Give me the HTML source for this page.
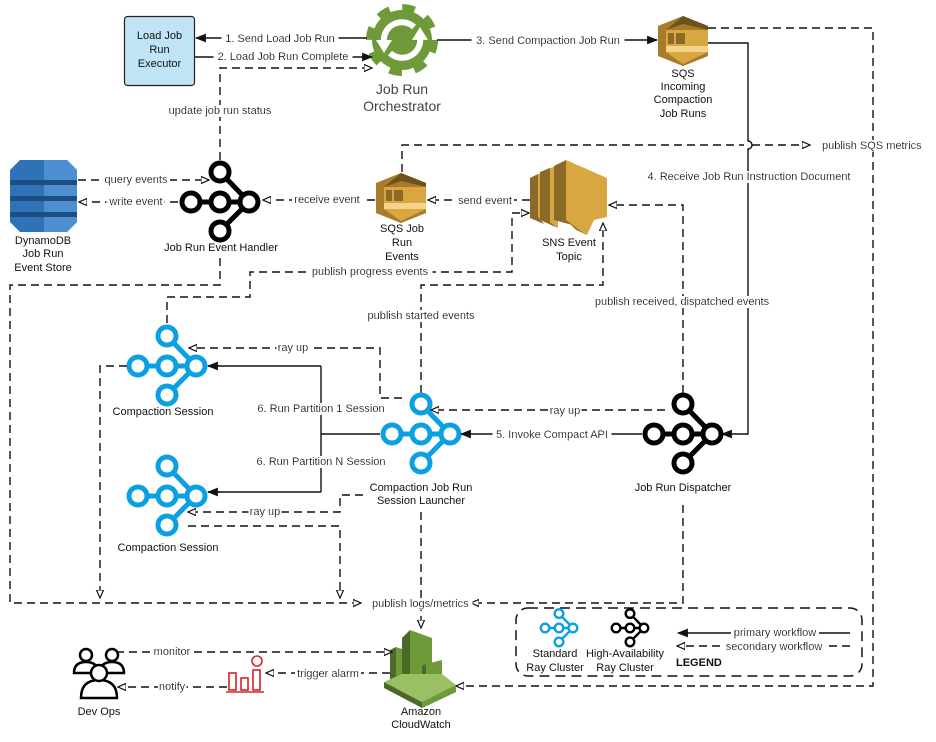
<!DOCTYPE html>
<html><head><meta charset="utf-8">
<style>
html,body{margin:0;padding:0;background:#fff;}
svg{display:block;font-family:"Liberation Sans",sans-serif;}
.t{font-size:11px;fill:#111;filter:url(#bg);}
.d{fill:none;stroke:#111;stroke-width:1.4;stroke-dasharray:8 5;}
.s{fill:none;stroke:#111;stroke-width:1.4;}
.lb{font-size:11px;fill:#111;}
</style></head><body>
<svg width="936" height="742" viewBox="0 0 936 742" xmlns="http://www.w3.org/2000/svg">
<defs>
<filter id="bg" x="-0.03" y="0" width="1.06" height="1"><feFlood flood-color="#fff"/><feComposite in="SourceGraphic"/></filter>
<marker id="o" viewBox="0 0 10 10" refX="9" refY="5" markerWidth="9" markerHeight="9" orient="auto" markerUnits="userSpaceOnUse"><path d="M0,1 L9,5 L0,9 Z" fill="#fff" stroke="#111" stroke-width="1.3"/></marker>
<marker id="f" viewBox="0 0 10 10" refX="9" refY="5" markerWidth="11" markerHeight="11" orient="auto" markerUnits="userSpaceOnUse"><path d="M0,1 L10,5 L0,9 Z" fill="#111"/></marker>
<g id="ray" fill="#fff" stroke-width="5">
<path d="M0,-30 L29,0 L0,29 M-29,0 L29,0" fill="none"/>
<circle cx="0" cy="-30" r="9"/><circle cx="-29" cy="0" r="9"/><circle cx="0" cy="0" r="9"/><circle cx="29" cy="0" r="9"/><circle cx="0" cy="29" r="9"/>
</g>
<g id="sqs">
<polygon points="25,0 50,10 50,40 25,50 0,40 0,10" fill="#d9a741"/>
<polygon points="0,10 25,0 50,10 50,14 8,14 8,36 50,36 50,40 25,50 0,40" fill="#a87c2a"/>
<polygon points="25,0 50,10 50,14 25,8 8,14" fill="#6e5219"/>
<rect x="8" y="14" width="42" height="16" fill="#d9a741"/>
<rect x="10" y="17" width="6" height="11" fill="#8a6a26"/><rect x="18" y="17" width="9" height="11" fill="#8a6a26"/>
<polygon points="8,30 50,30 50,36 8,36" fill="#f5d48a"/>
<polygon points="8,36 50,36 25,48" fill="#d9a741"/>
</g>
</defs>

<!-- Load Job Run Executor -->
<rect x="124.5" y="16.5" width="70" height="69" rx="3" fill="#c0e4f6" stroke="#222" stroke-width="1.2"/>
<text class="lb" x="159.5" y="39" text-anchor="middle">Load Job</text>
<text class="lb" x="159.5" y="53" text-anchor="middle">Run</text>
<text class="lb" x="159.5" y="67" text-anchor="middle">Executor</text>

<!-- Orchestrator gear -->
<g transform="translate(402,40)">
<circle r="30" fill="#6f9a3a"/>
<circle r="32" fill="none" stroke="#6f9a3a" stroke-width="8" stroke-dasharray="12.5 12.63"/>
<path d="M-18,3 A18,18 0 0 1 12,-13" fill="none" stroke="#fff" stroke-width="6"/>
<path d="M18,-3 A18,18 0 0 1 -12,13" fill="none" stroke="#fff" stroke-width="6"/>
<polygon points="-26,0 -10,0 -18,13" fill="#fff"/>
<polygon points="26,0 10,0 18,-13" fill="#fff"/>
</g>
<text x="402" y="94" text-anchor="middle" font-size="14" fill="#444">Job Run</text>
<text x="402" y="111" text-anchor="middle" font-size="14" fill="#444">Orchestrator</text>

<!-- arrows 1,2 -->
<line class="s" x1="367" y1="38" x2="196" y2="38" marker-end="url(#f)"/>
<text class="t" x="280" y="42" text-anchor="middle">1. Send Load Job Run</text>
<line class="s" x1="195" y1="57" x2="372" y2="57" marker-end="url(#f)"/>
<text class="t" x="283" y="60" text-anchor="middle">2. Load Job Run Complete</text>
<path class="d" d="M220,160 L220,68 L372,68" marker-end="url(#o)"/>
<text class="t" x="220" y="114" text-anchor="middle">update job run status</text>

<!-- arrow 3 -->
<line class="s" x1="437" y1="40" x2="657" y2="40" marker-end="url(#f)"/>
<text class="t" x="548" y="44" text-anchor="middle">3. Send Compaction Job Run</text>
<use href="#sqs" x="658" y="16"/>
<text class="lb" x="683" y="77" text-anchor="middle">SQS</text>
<text class="lb" x="683" y="90" text-anchor="middle">Incoming</text>
<text class="lb" x="683" y="103" text-anchor="middle">Compaction</text>
<text class="lb" x="683" y="117" text-anchor="middle">Job Runs</text>

<!-- 4 -->
<path class="s" d="M708,43 L748,43 L748,141 A4,4 0 0 1 748,149 L748,434 L722,434" marker-end="url(#f)"/>
<text class="t" x="749" y="180" text-anchor="middle">4. Receive Job Run Instruction Document</text>
<path class="d" d="M708,28 L873,28 L873,686 L456,686" marker-end="url(#o)"/>

<!-- publish SQS metrics -->
<path class="d" d="M402,172 L402,145 L744,145 M752,145 L810,145" marker-end="url(#o)"/>
<text class="t" x="822" y="149">publish SQS metrics</text>

<!-- DynamoDB -->
<g transform="translate(10,160)">
<path d="M10,0 L57,0 L67,10 L67,62 L57,72 L10,72 L0,62 L0,10 Z" fill="#2e73b8"/>
<path d="M34,0 L57,0 L67,10 L67,62 L57,72 L34,72 Z" fill="#4d8fd1"/>
<rect x="0" y="20" width="67" height="5" fill="#1d4f7e"/>
<rect x="0" y="36" width="67" height="5" fill="#1d4f7e"/>
<rect x="0" y="52" width="67" height="5" fill="#1d4f7e"/>
</g>
<text class="lb" x="43" y="244" text-anchor="middle">DynamoDB</text>
<text class="lb" x="43" y="257" text-anchor="middle">Job Run</text>
<text class="lb" x="43" y="271" text-anchor="middle">Event Store</text>
<path class="d" d="M78,180 L209,180" marker-end="url(#o)"/>
<text class="t" x="136" y="183" text-anchor="middle">query events</text>
<path class="d" d="M178,202 L79,202" marker-end="url(#o)"/>
<text class="t" x="136" y="205" text-anchor="middle">write event</text>

<!-- Event Handler -->
<use href="#ray" x="220" y="202" stroke="#000"/>
<text class="lb" x="221" y="251" text-anchor="middle">Job Run Event Handler</text>

<path class="d" d="M375,200 L263,200" marker-end="url(#o)"/>
<text class="t" x="327" y="203" text-anchor="middle">receive event</text>
<use href="#sqs" x="376" y="173"/>
<text class="lb" x="402" y="232" text-anchor="middle">SQS Job</text>
<text class="lb" x="402" y="246" text-anchor="middle">Run</text>
<text class="lb" x="402" y="260" text-anchor="middle">Events</text>

<!-- SNS -->
<g transform="translate(530,160)">
<polygon points="0,18 8,14 8,56 14,64 0,58" fill="#8a6a26"/>
<polygon points="8,14 14,12 14,62 8,56" fill="#d9a741"/>
<polygon points="10,12 20,8 20,62 28,68 10,60" fill="#8a6a26"/>
<polygon points="20,8 28,6 28,68 20,62" fill="#d9a741"/>
<polygon points="24,6 36,0 36,58 46,66 24,60" fill="#8a6a26"/>
<polygon points="36,0 77,18 77,57 64,60 57,75 36,60" fill="#d9a741"/>
<polygon points="36,60 57,75 46,70" fill="#a87c2a"/>
</g>
<text class="lb" x="569" y="246" text-anchor="middle">SNS Event</text>
<text class="lb" x="569" y="260" text-anchor="middle">Topic</text>
<path class="d" d="M530,200 L428,200" marker-end="url(#o)"/>
<text class="t" x="485" y="204" text-anchor="middle">send event</text>

<!-- publish progress events -->
<path class="d" d="M167,323 L167,297 L250,297 L250,272 L512,272 L512,213 L529,213" marker-end="url(#o)"/>
<text class="t" x="370" y="275" text-anchor="middle">publish progress events</text>
<path class="d" d="M220,258 L220,285 L10,285 L10,603 L361,603" marker-end="url(#o)"/>

<!-- publish started events -->
<path class="d" d="M421,393 L421,285 L603,285 L603,223" marker-end="url(#o)"/>
<text class="t" x="421" y="319" text-anchor="middle">publish started events</text>
<path class="d" d="M683,393 L683,205 L609,205" marker-end="url(#o)"/>
<text class="t" x="682" y="305" text-anchor="middle">publish received, dispatched events</text>

<!-- Compaction sessions -->
<use href="#ray" x="167" y="366" stroke="#0aa0e2"/>
<text class="lb" x="163" y="415" text-anchor="middle">Compaction Session</text>
<use href="#ray" x="167" y="496" stroke="#0aa0e2"/>
<text class="lb" x="168" y="551" text-anchor="middle">Compaction Session</text>

<!-- Launcher -->
<use href="#ray" x="421" y="434" stroke="#0aa0e2"/>
<text class="lb" x="421" y="491" text-anchor="middle">Compaction Job Run</text>
<text class="lb" x="421" y="504" text-anchor="middle">Session Launcher</text>

<!-- Dispatcher -->
<use href="#ray" x="683" y="434" stroke="#000"/>
<text class="lb" x="683" y="491" text-anchor="middle">Job Run Dispatcher</text>

<!-- ray ups -->
<path class="d" d="M402,398 L380,398 L380,348 L189,348" marker-end="url(#o)"/>
<text class="t" x="293" y="351" text-anchor="middle">ray up</text>
<path class="d" d="M665,410 L431,410" marker-end="url(#o)"/>
<text class="t" x="565" y="414" text-anchor="middle">ray up</text>
<path class="d" d="M363,495 L340,495 L340,512 L188,512" marker-end="url(#o)"/>
<text class="t" x="265" y="515" text-anchor="middle">ray up</text>

<!-- 5 -->
<line class="s" x1="642" y1="434" x2="461" y2="434" marker-end="url(#f)"/>
<text class="t" x="552" y="438" text-anchor="middle">5. Invoke Compact API</text>
<!-- 6 -->
<path class="s" d="M380,434 L321,434 M321,366 L321,492 M321,366 L208,366 M321,492 L208,492"/>
<line class="s" x1="220" y1="366" x2="208" y2="366" marker-end="url(#f)"/>
<line class="s" x1="220" y1="492" x2="208" y2="492" marker-end="url(#f)"/>
<text class="t" x="321" y="412" text-anchor="middle">6. Run Partition 1 Session</text>
<text class="t" x="321" y="465" text-anchor="middle">6. Run Partition N Session</text>

<path class="d" d="M188,526 L340,526 L340,598" marker-end="url(#o)"/>
<path class="d" d="M127,366 L100,366 L100,598" marker-end="url(#o)"/>
<path class="d" d="M421,512 L421,628" marker-end="url(#o)"/>
<path class="d" d="M683,505 L683,603 L471,603" marker-end="url(#o)"/>
<text class="t" x="372" y="607">publish logs/metrics</text>

<!-- CloudWatch -->
<g transform="translate(388,630)">
<polygon points="2,20 8,17 8,58 2,60" fill="#4b6a27"/>
<polygon points="8,17 14,19 14,58 8,58" fill="#6f9a3a"/>
<polygon points="14,8 22,0 22,58 14,58" fill="#4b6a27"/>
<polygon points="22,0 44,8 44,58 22,58" fill="#6f9a3a"/>
<polygon points="38,34 54,30 54,55 38,58" fill="#6f9a3a"/>
<polygon points="34,36 38,34 38,58 34,58" fill="#4b6a27"/>
<polygon points="-4,52 34,72 68,55 68,62 34,78 -4,58" fill="#4b6a27"/>
<polygon points="-4,52 14,44 54,44 68,55 34,72" fill="#9bbf63"/>
<polygon points="34,72 68,55 68,62 34,78" fill="#6f9a3a"/>
</g>
<text class="lb" x="421" y="715" text-anchor="middle">Amazon</text>
<text class="lb" x="421" y="728" text-anchor="middle">CloudWatch</text>

<!-- Dev Ops -->
<g fill="#fff" stroke="#000" stroke-width="2.5">
<path d="M74,673 Q74,662 86,662 Q98,662 98,673 Z"/>
<circle cx="86" cy="655" r="6"/>
<path d="M100,673 Q100,662 112,662 Q124,662 124,673 Z"/>
<circle cx="112" cy="655" r="6"/>
<path d="M81,698 Q81,680 99,680 Q117,680 117,698 Z"/>
<circle cx="99" cy="673" r="8"/>
</g>
<text class="lb" x="99" y="715" text-anchor="middle">Dev Ops</text>
<path class="d" d="M116,652 L392,652" marker-end="url(#o)"/>
<text class="t" x="172" y="655" text-anchor="middle">monitor</text>
<path class="d" d="M390,673 L266,673" marker-end="url(#o)"/>
<text class="t" x="328" y="677" text-anchor="middle">trigger alarm</text>
<path class="d" d="M227,687 L118,687" marker-end="url(#o)"/>
<text class="t" x="172" y="690" text-anchor="middle">notify</text>

<!-- Alarm -->
<g fill="none" stroke="#d2232a" stroke-width="1.6">
<rect x="229" y="673" width="7" height="17"/>
<rect x="241" y="678" width="7" height="12"/>
<rect x="253" y="670" width="7" height="20"/>
<circle cx="257" cy="661" r="5"/>
<line x1="226" y1="692" x2="264" y2="692"/>
</g>

<!-- Legend -->
<rect x="516" y="608" width="346" height="68" rx="12" fill="none" stroke="#111" stroke-width="1.5" stroke-dasharray="10 6"/>
<g transform="translate(559,628) scale(0.48)"><use href="#ray" stroke="#0aa0e2"/></g>
<g transform="translate(630,628) scale(0.48)"><use href="#ray" stroke="#000"/></g>
<text class="lb" x="555" y="657" text-anchor="middle">Standard</text>
<text class="lb" x="555" y="671" text-anchor="middle">Ray Cluster</text>
<text class="lb" x="625" y="657" text-anchor="middle">High-Availability</text>
<text class="lb" x="625" y="671" text-anchor="middle">Ray Cluster</text>
<text x="676" y="666" font-size="11" font-weight="bold" fill="#111">LEGEND</text>
<line class="s" x1="850" y1="633" x2="678" y2="633" marker-end="url(#f)"/>
<text class="t" x="775" y="636" text-anchor="middle">primary workflow</text>
<line class="d" x1="850" y1="646" x2="677" y2="646" marker-end="url(#o)"/>
<text class="t" x="774" y="650" text-anchor="middle">secondary workflow</text>
</svg>
</body></html>
